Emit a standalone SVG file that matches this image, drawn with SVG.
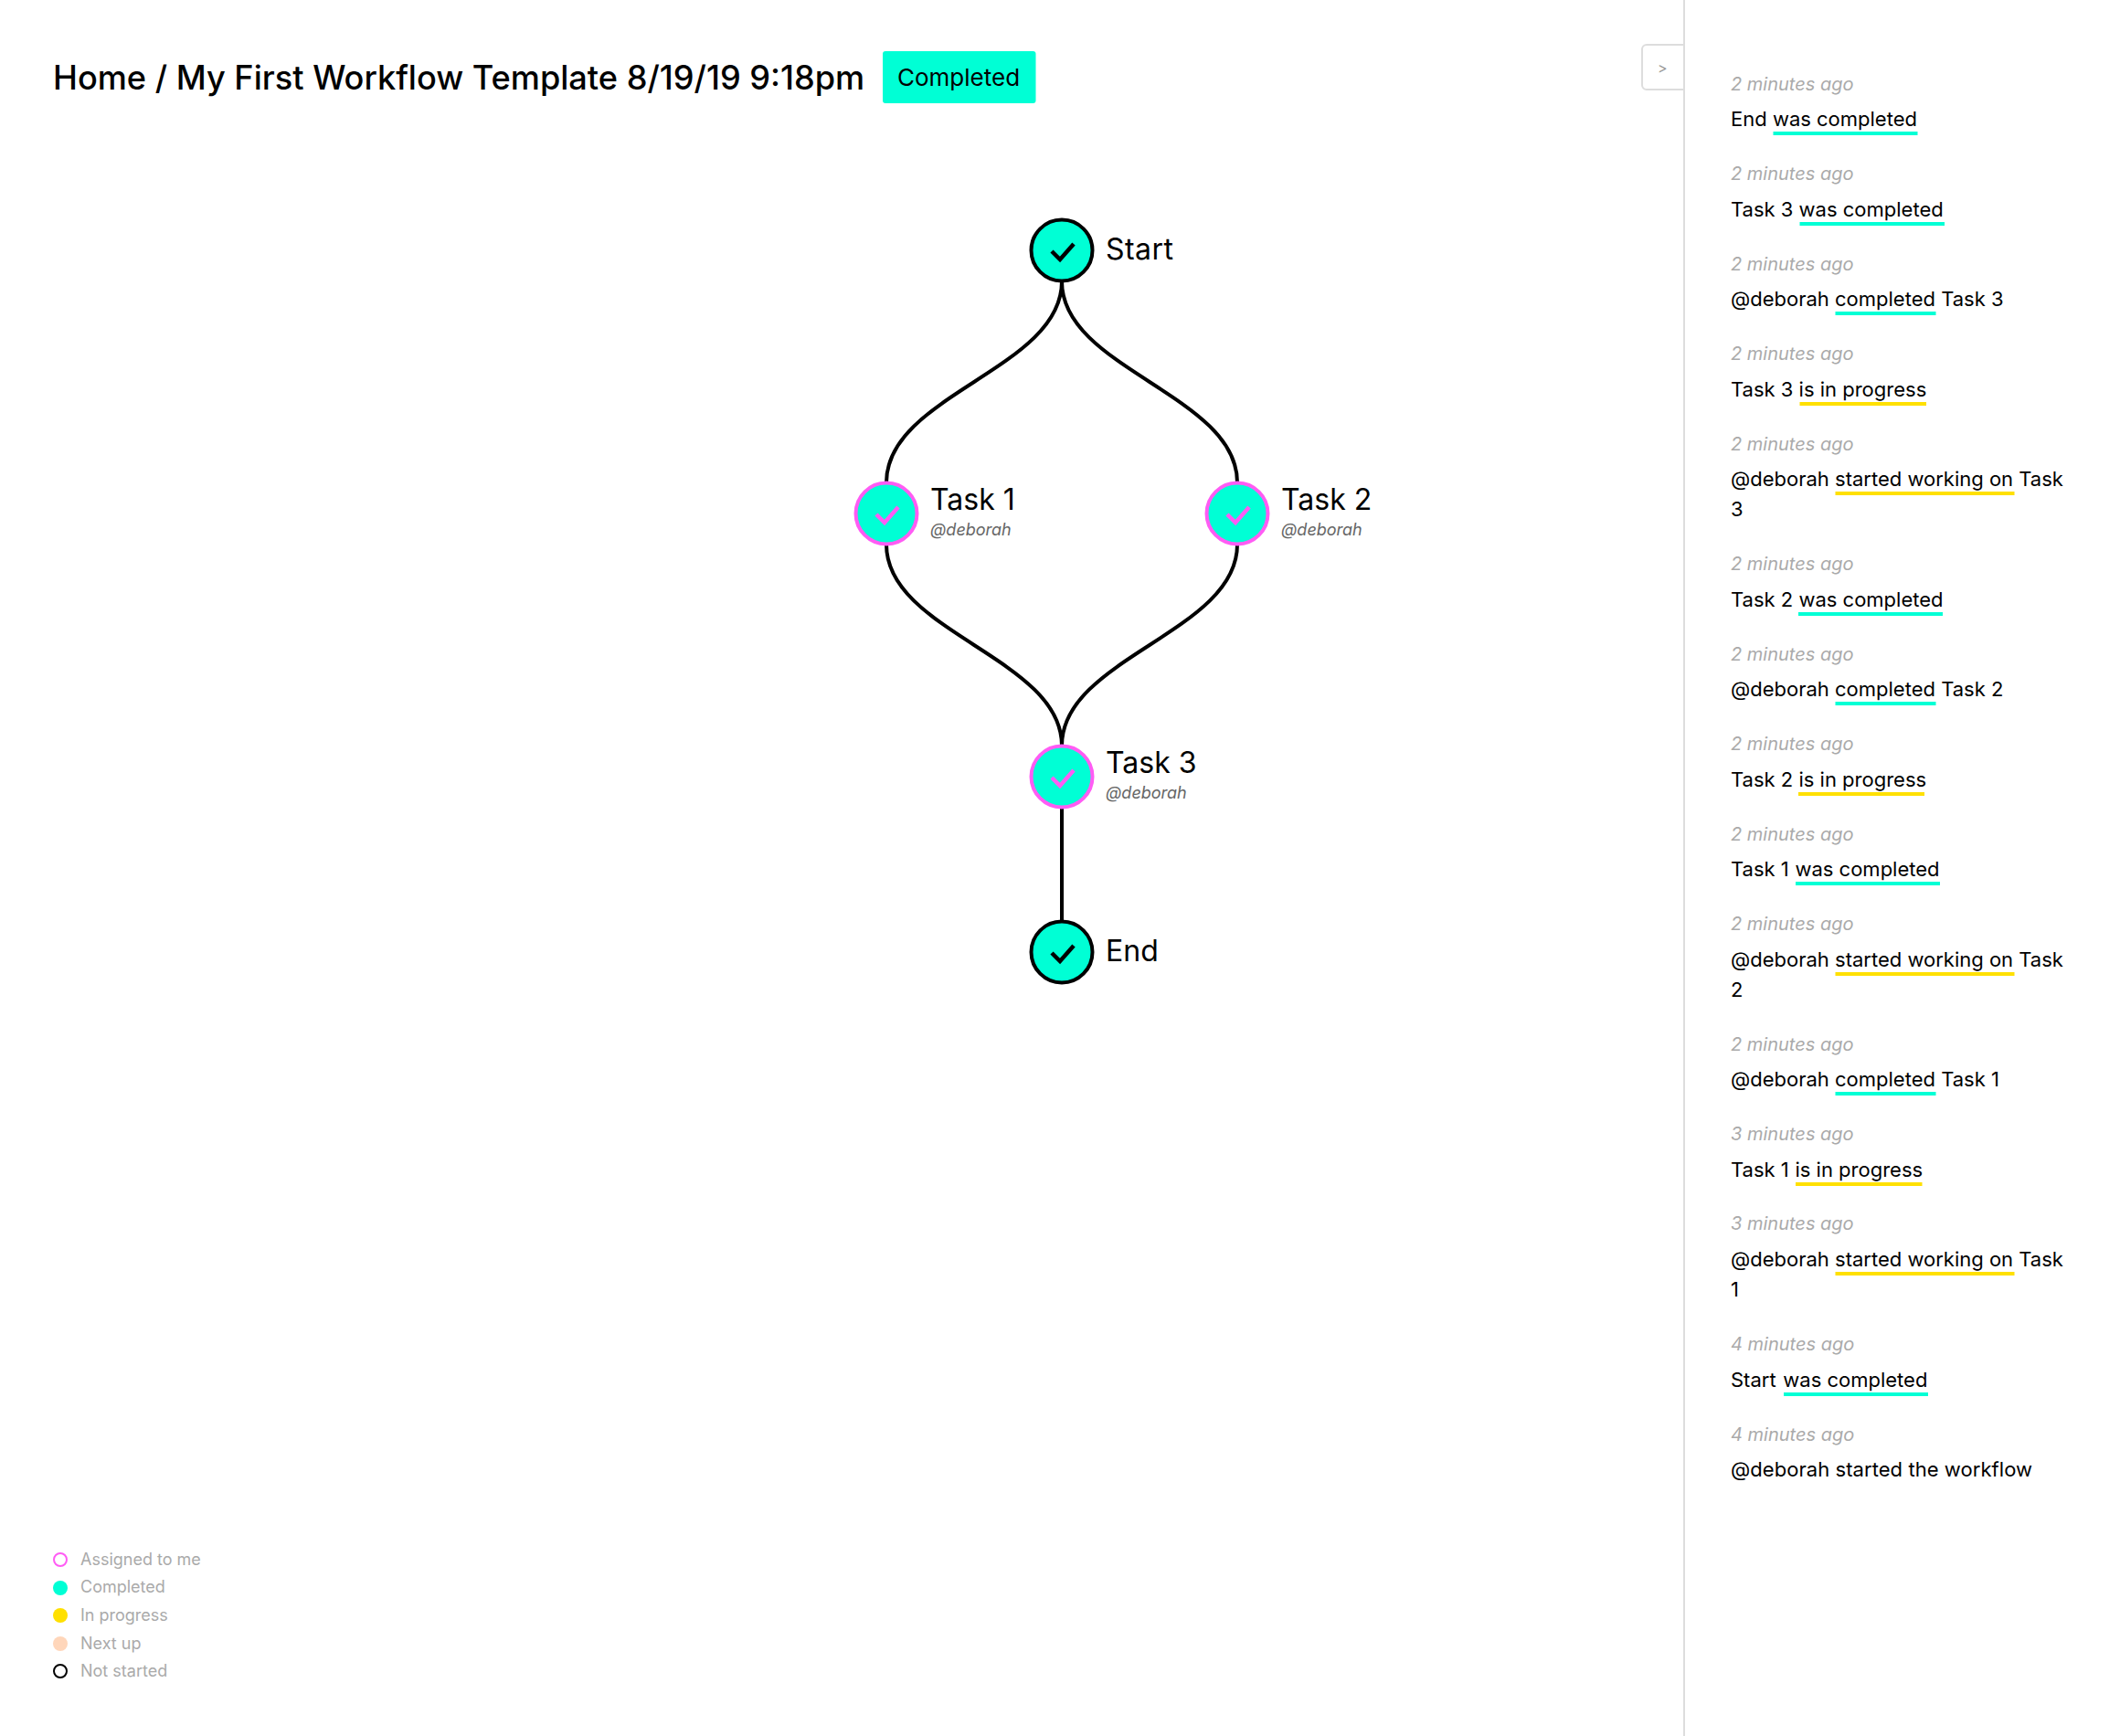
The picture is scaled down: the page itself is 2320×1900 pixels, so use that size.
<svg xmlns="http://www.w3.org/2000/svg" width="2320" height="1900" viewBox="0 0 2320 1900">
<style>
text{font-family:"Inter","Noto Sans",sans-serif;fill:#000}
.title{font-size:36.150px;font-weight:500}
.badge{font-size:26px}
.lab{font-size:32px}
.who{font-size:18px;font-style:italic;fill:#666}
.ts{font-size:20px;font-style:italic;fill:#aaa}
.msg{font-size:22px}
.leg{font-size:18px;fill:#aaa}
.edge{fill:none;stroke:#000;stroke-width:4}
.nd{fill:#00ffd5;stroke:#000;stroke-width:4}
.me{fill:#00ffd5;stroke:#ff5cf4;stroke-width:4}
.ck{fill:none;stroke:#000;stroke-width:4.500}
.ckm{fill:none;stroke:#ff5cf4;stroke-width:4.500}
.c{fill:#00ffd5}.y{fill:#ffe000}
</style>
<rect width="2320" height="1900" fill="#fff"/>
<g id="header">
<text class="title" x="58" y="98">Home / My First Workflow Template 8/19/19 9:18pm</text>
<rect x="966" y="56" width="167.500" height="57" rx="3" fill="#00ffd5"/>
<text class="badge" x="982" y="94">Completed</text>
</g>
<g id="connectors">
<path class="edge" d="M1162,308C1162,404 970,432 970,528"/>
<path class="edge" d="M1162,308C1162,404 1354,432 1354,528"/>
<path class="edge" d="M970,596C970,692 1162,720 1162,816"/>
<path class="edge" d="M1354,596C1354,692 1162,720 1162,816"/>
<path class="edge" d="M1162,884V1008"/>
</g>
<g id="node-start"><circle class="nd" cx="1162" cy="274" r="33.500"/><path class="ck" d="M1151,275L1160,284L1175,267"/><text class="lab" x="1210" y="284" textLength="74">Start</text></g>
<g id="node-task1"><circle class="me" cx="970" cy="562" r="33.500"/><path class="ckm" d="M959,563L968,572L983,555"/><text class="lab" x="1018" y="558">Task 1</text><text class="who" x="1018" y="586">@deborah</text></g>
<g id="node-task2"><circle class="me" cx="1354" cy="562" r="33.500"/><path class="ckm" d="M1343,563L1352,572L1367,555"/><text class="lab" x="1402" y="558">Task 2</text><text class="who" x="1402" y="586">@deborah</text></g>
<g id="node-task3"><circle class="me" cx="1162" cy="850" r="33.500"/><path class="ckm" d="M1151,851L1160,860L1175,843"/><text class="lab" x="1210" y="846">Task 3</text><text class="who" x="1210" y="874">@deborah</text></g>
<g id="node-end"><circle class="nd" cx="1162" cy="1042" r="33.500"/><path class="ck" d="M1151,1043L1160,1052L1175,1035"/><text class="lab" x="1210" y="1052">End</text></g>
<g id="toggle"><path d="M1843,49H1802a5,5 0 0 0 -5,5V93a5,5 0 0 0 5,5H1843" fill="#fff" stroke="#ddd" stroke-width="2"/><text x="1814" y="80" style="font-size:16px;fill:#999">&gt;</text></g>
<rect id="divider" x="1842" y="0" width="2" height="1900" fill="#ddd"/>
<g id="activity">
<text class="ts" x="1894" y="99">2 minutes ago</text><text class="msg" x="1894" y="138">End was completed</text><rect class="c" x="1940.500" y="144" width="158" height="4"/>
<text class="ts" x="1894" y="197">2 minutes ago</text><text class="msg" x="1894" y="237">Task 3 was completed</text><rect class="c" x="1969.500" y="243" width="158.500" height="4"/>
<text class="ts" x="1894" y="296">2 minutes ago</text><text class="msg" x="1894" y="335">@deborah completed Task 3</text><rect class="c" x="2008.500" y="341" width="110" height="4"/>
<text class="ts" x="1894" y="394">2 minutes ago</text><text class="msg" x="1894" y="434">Task 3 is in progress</text><rect class="y" x="1969.500" y="440" width="138.500" height="4"/>
<text class="ts" x="1894" y="493">2 minutes ago</text><text class="msg" x="1894" y="532">@deborah started working on Task</text><rect class="y" x="2008.500" y="538" width="196" height="4"/><text class="msg" x="1894" y="565">3</text>
<text class="ts" x="1894" y="624">2 minutes ago</text><text class="msg" x="1894" y="664">Task 2 was completed</text><rect class="c" x="1968" y="670" width="158" height="4"/>
<text class="ts" x="1894" y="723">2 minutes ago</text><text class="msg" x="1894" y="762">@deborah completed Task 2</text><rect class="c" x="2008.500" y="768" width="110" height="4"/>
<text class="ts" x="1894" y="821">2 minutes ago</text><text class="msg" x="1894" y="861">Task 2 is in progress</text><rect class="y" x="1968" y="867" width="138" height="4"/>
<text class="ts" x="1894" y="920">2 minutes ago</text><text class="msg" x="1894" y="959">Task 1 <tspan dx="0.500">was completed</tspan></text><rect class="c" x="1965" y="965" width="158" height="4"/>
<text class="ts" x="1894" y="1018">2 minutes ago</text><text class="msg" x="1894" y="1058">@deborah started working on Task</text><rect class="y" x="2008.500" y="1064" width="196" height="4"/><text class="msg" x="1894" y="1091">2</text>
<text class="ts" x="1894" y="1150">2 minutes ago</text><text class="msg" x="1894" y="1189">@deborah completed Task 1</text><rect class="c" x="2008.500" y="1195" width="110" height="4"/>
<text class="ts" x="1894" y="1248">3 minutes ago</text><text class="msg" x="1894" y="1288">Task 1 <tspan dx="0.500">is in progress</tspan></text><rect class="y" x="1965" y="1294" width="138.500" height="4"/>
<text class="ts" x="1894" y="1346">3 minutes ago</text><text class="msg" x="1894" y="1386">@deborah started working on Task</text><rect class="y" x="2008.500" y="1392" width="196" height="4"/><text class="msg" x="1894" y="1419">1</text>
<text class="ts" x="1894" y="1478">4 minutes ago</text><text class="msg" x="1894" y="1518">Start <tspan dx="1.500">was completed</tspan></text><rect class="c" x="1952" y="1524" width="158" height="4"/>
<text class="ts" x="1894" y="1577">4 minutes ago</text><text class="msg" x="1894" y="1616" textLength="330">@deborah started the workflow</text>
</g>
<g id="legend">
<circle cx="66" cy="1707" r="7" fill="none" stroke="#ff5cf4" stroke-width="2"/><text class="leg" x="88" y="1713">Assigned to me</text>
<circle cx="66" cy="1738" r="8" fill="#00ffd5"/><text class="leg" x="88" y="1743">Completed</text>
<circle cx="66" cy="1768" r="8" fill="#ffe000"/><text class="leg" x="88" y="1774">In progress</text>
<circle cx="66" cy="1799" r="8" fill="#ffd6ba"/><text class="leg" x="88" y="1805">Next up</text>
<circle cx="66" cy="1829" r="7" fill="none" stroke="#000" stroke-width="2"/><text class="leg" x="88" y="1835">Not started</text>
</g>
</svg>
